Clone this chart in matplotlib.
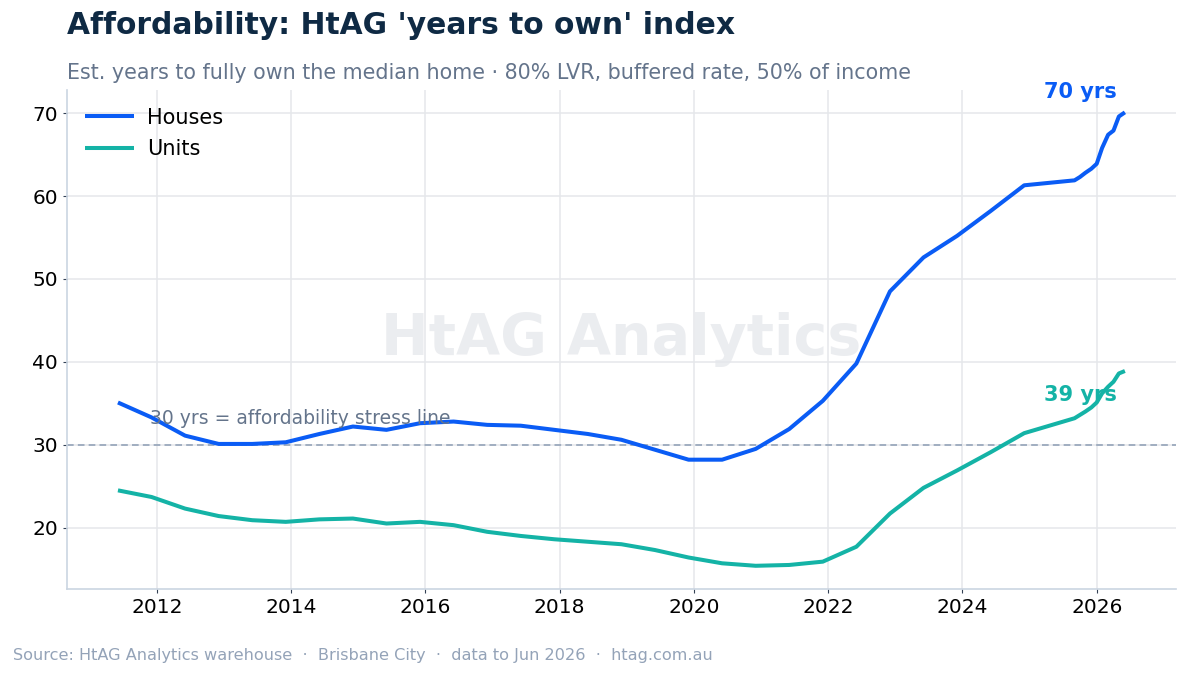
import numpy as np
import matplotlib
matplotlib.use('Agg')
import matplotlib.pyplot as plt

# Half-yearly (Jun / Dec) readings, then monthly from Sep 2025
dates = [
    2011.42, 2011.92, 2012.42, 2012.92, 2013.42, 2013.92, 2014.42, 2014.92,
    2015.42, 2015.92, 2016.42, 2016.92, 2017.42, 2017.92, 2018.42, 2018.92,
    2019.42, 2019.92, 2020.42, 2020.92, 2021.42, 2021.92, 2022.42, 2022.92,
    2023.42, 2023.92, 2024.42, 2024.92,
    2025.67, 2025.75, 2025.83, 2025.92, 2026.00, 2026.08, 2026.17, 2026.25,
    2026.33, 2026.42,
]
houses = [
    35.1, 33.3, 31.1, 30.1, 30.1, 30.3, 31.3, 32.2,
    31.8, 32.6, 32.8, 32.4, 32.3, 31.8, 31.3, 30.6,
    29.4, 28.2, 28.2, 29.5, 31.9, 35.3, 39.8, 48.5,
    52.6, 55.2, 58.2, 61.3,
    61.9, 62.3, 62.8, 63.3, 63.9, 65.8, 67.4, 67.9,
    69.6, 70.1,
]
units = [
    24.5, 23.7, 22.3, 21.4, 20.9, 20.7, 21.0, 21.1,
    20.5, 20.7, 20.3, 19.5, 19.0, 18.6, 18.3, 18.0,
    17.3, 16.4, 15.7, 15.4, 15.5, 15.9, 17.7, 21.7,
    24.8, 26.9, 29.1, 31.4,
    33.2, 33.6, 34.0, 34.5, 35.1, 36.2, 37.0, 37.6,
    38.6, 38.9,
]
stress_line = 30

HOUSE_C = '#0A5CF5'
UNIT_C = '#14B3A6'

fig = plt.figure(figsize=(11.89, 6.76), dpi=100)
ax = fig.add_axes([0.0563, 0.1287, 0.9327, 0.7382])

ax.plot(dates, houses, color=HOUSE_C, lw=2.9, label='Houses', solid_capstyle='butt', zorder=3)
ax.plot(dates, units, color=UNIT_C, lw=2.9, label='Units', solid_capstyle='butt', zorder=3)

ax.axhline(stress_line, color='#94a3b8', lw=1.2, ls=(0, (4, 2.5)), zorder=2)
ax.text(2011.9, stress_line + 3.2, '30 yrs = affordability stress line',
        color='#64748b', fontsize=13.5, ha='left', va='center', zorder=4)

# end-of-series labels
ax.annotate(f'{houses[-1]:.0f} yrs', (dates[-1], houses[-1]), xytext=(-6, 15),
            textcoords='offset points', ha='right', va='center',
            color=HOUSE_C, fontsize=15, fontweight='bold')
ax.annotate(f'{units[-1]:.0f} yrs', (dates[-1], units[-1]), xytext=(-6, -17),
            textcoords='offset points', ha='right', va='center',
            color=UNIT_C, fontsize=15, fontweight='bold')

# watermark
ax.text(0.5, 0.5, 'HtAG Analytics', transform=ax.transAxes, ha='center', va='center',
        fontsize=41, fontweight='bold', color='#e5e7eb', alpha=0.75, zorder=1)

ax.set_xlim(2010.66, 2027.18)
ax.set_ylim(12.6, 72.8)
ax.set_xticks([2012, 2014, 2016, 2018, 2020, 2022, 2024, 2026])
ax.set_yticks([20, 30, 40, 50, 60, 70])
ax.tick_params(labelsize=14.5, length=3, color='#334155')
ax.grid(True, color='#e5e7eb', lw=1.1, zorder=0)
ax.set_axisbelow(True)
for s in ['top', 'right']:
    ax.spines[s].set_visible(False)
for s in ['left', 'bottom']:
    ax.spines[s].set_color('#cbd5e1')
    ax.spines[s].set_linewidth(1.2)

ax.legend(loc='upper left', frameon=False, fontsize=15, handlelength=2.35,
          borderaxespad=0.45, labelspacing=0.55, handletextpad=0.65)

fig.text(0.0563, 0.962, "Affordability: HtAG 'years to own' index", fontsize=21.4,
         fontweight='bold', color='#0f2a44', ha='left', va='center')
fig.text(0.0563, 0.892, 'Est. years to fully own the median home \u00b7 80% LVR, buffered rate, 50% of income',
         fontsize=14.9, color='#64748b', ha='left', va='center')
fig.text(0.011, 0.031,
         'Source: HtAG Analytics warehouse  \u00b7  Brisbane City  \u00b7  data to Jun 2026  \u00b7  htag.com.au',
         fontsize=11.6, color='#94a3b8', ha='left', va='center')

fig.savefig('out.png', dpi=100)
plt.close(fig)
